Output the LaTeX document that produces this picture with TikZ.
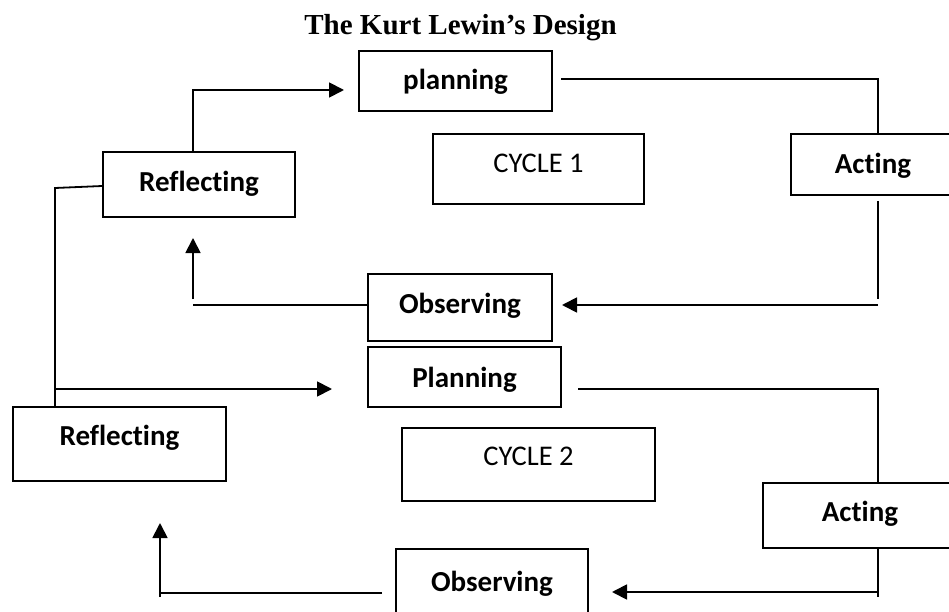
\documentclass[tikz,border=0pt]{standalone}
\usepackage{fontspec}
\setmainfont{Carlito}[Ligatures={NoCommon}]
\newfontfamily\titlefont{Liberation Serif}
\usetikzlibrary{arrows.meta}
\tikzset{
  box/.style={draw, line width=1.8pt, inner sep=0pt, font=\fontsize{29}{31}\selectfont\bfseries, text depth=0pt},
  cyc/.style={draw, line width=1.8pt, inner sep=0pt, font=\fontsize{28.5}{31}\selectfont, text depth=0pt},
  conn/.style={line width=1.8pt},
  arr/.style={line width=1.8pt, -{Triangle[length=15pt,width=15pt]}}
}
\begin{document}
\begin{tikzpicture}[x=1pt,y=-1pt]
\useasboundingbox (0,0) rectangle (949,612);
\clip (0,0) rectangle (949,612);
\node[anchor=base, font=\titlefont\bfseries\fontsize{29}{31}\selectfont] (title) at (460.5,35) {The Kurt Lewin’s Design};
% cycle 1
\node[box, minimum width=193pt, minimum height=60pt, text height=17pt] (p1) at (455.5,81) {planning};
\node[box, minimum width=164pt, minimum height=61pt, text height=18pt] (ac1) at (873,164.5) {Acting};
\node[cyc, minimum width=211pt, minimum height=70pt, text height=8pt] (cy1) at (538.5,169) {CYCLE 1};
\node[box, minimum width=184pt, minimum height=67pt, text height=11pt] (ob1) at (460,307.5) {Observing};
\node[box, minimum width=192pt, minimum height=65pt, text height=14pt] (r1) at (199,184.5) {Reflecting};
% cycle 2
\node[box, minimum width=193pt, minimum height=60pt, text height=20pt] (p2) at (464.5,377) {Planning};
\node[box, minimum width=213pt, minimum height=74pt, text height=2pt] (r2) at (119.5,444) {Reflecting};
\node[cyc, minimum width=253pt, minimum height=73pt, text height=2.4pt] (cy2) at (528.5,464.5) {CYCLE 2};
\node[box, minimum width=194pt, minimum height=65pt, text height=12pt] (ac2) at (860,515.5) {Acting};
\node[box, minimum width=192pt, minimum height=81pt, text height=3pt] (ob2) at (492,589.5) {Observing};
% free ends
\coordinate (t1) at (344,90);
\coordinate (s2) at (561,79);
\coordinate (t3) at (562,305);
\coordinate (t4) at (193,238);
\coordinate (t5) at (332,389);
\coordinate (s7) at (578,389);
\coordinate (t8) at (612,592);
\coordinate (s9) at (382,593);
\coordinate (t9) at (160,523);
% connectors cycle 1
\draw[arr] (r1.north -| 193,0) |- (t1);
\draw[conn] (s2) -| (ac1.north -| 878,0);
\draw[conn] ([yshift=-5pt]ac1.south -| 878,0) -- (878,299);
\draw[arr] (878,305) -- (t3);
\draw[conn] (ob1.west |- 0,305) -- (193,305);
\draw[arr] (193,299) -- (t4);
\draw[conn] (r1.west |- 0,186) -- (55,188) -- (r2.north -| 55,0);
\draw[arr] (55,389) -- (t5);
% connectors cycle 2
\draw[conn] (s7) -| (ac2.north -| 878,0);
\draw[conn] (ac2.south -| 878,0) -- (878,597);
\draw[arr] (878,592) -- (t8);
\draw[conn] (s9) -- (160,593);
\draw[arr] (160,597) -- (t9);
\end{tikzpicture}
\end{document}
